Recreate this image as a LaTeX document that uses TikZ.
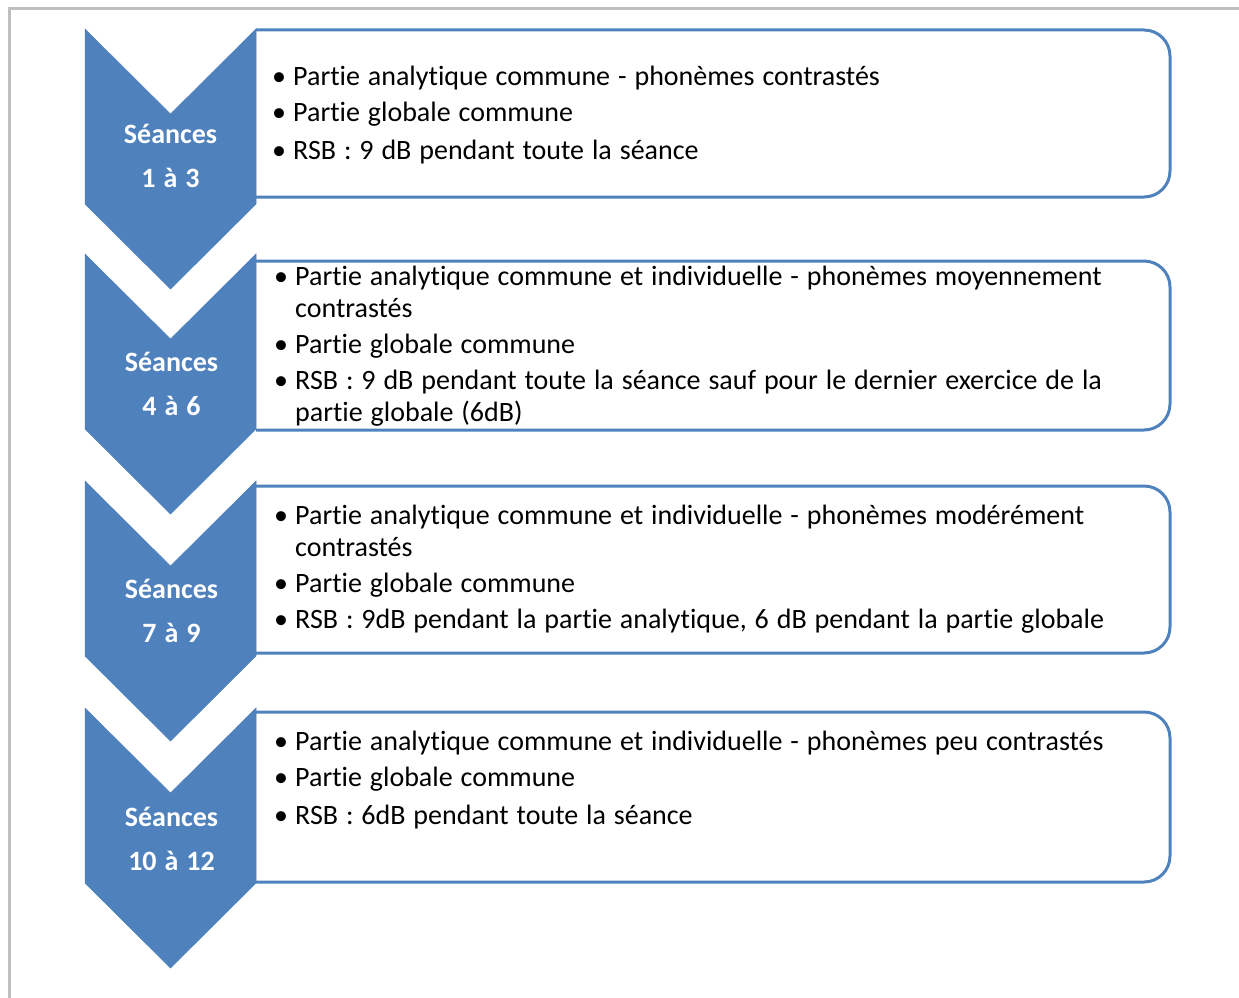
\documentclass[tikz,border=0pt]{standalone}
\usepackage{fontspec}
\setmainfont{Carlito}[Ligatures=NoCommon, WordSpace=1.25]
\usepackage{tikz}

\definecolor{bleu}{HTML}{4F81BD}
\newcommand{\puce}{\makebox[21pt][l]{\textbullet}}
\newcommand{\suite}{\hspace*{21pt}}

\begin{document}
\begin{tikzpicture}[x=1pt, y=-1pt,
  chevron/.style={fill=bleu, draw=bleu, line width=0.5pt},
  cadre/.style={draw=bleu, line width=3pt, rounded corners=26pt},
  etiq/.style={text=white, font=\bfseries\fontsize{28}{44}\selectfont, align=center, inner sep=0pt},
  puces/.style={font=\fontsize{28}{32}\selectfont, align=left, inner sep=0pt, anchor=base west}]

\useasboundingbox (0,0) rectangle (1239,998);
\draw[gray!50, line width=3pt] (9,998) -- (9,9) -- (1239,9);

\draw[cadre] (256,30) -- (1170,30) -- (1170,197) -- (256,197);
\draw[cadre] (256,261) -- (1170,261) -- (1170,430) -- (256,430);
\draw[cadre] (256,486) -- (1170,486) -- (1170,653) -- (256,653);
\draw[cadre] (256,712) -- (1170,712) -- (1170,882) -- (256,882);

\draw[chevron] (85,29) -- (170.5,114) -- (256,29) -- (256,204) -- (170.5,289) -- (85,204) -- cycle;
\draw[chevron] (85,254) -- (170.5,339) -- (256,254) -- (256,429) -- (170.5,514) -- (85,429) -- cycle;
\draw[chevron] (85,481) -- (170.5,566) -- (256,481) -- (256,656) -- (170.5,741) -- (85,656) -- cycle;
\draw[chevron] (85,708) -- (170.5,793) -- (256,708) -- (256,883) -- (170.5,968) -- (85,883) -- cycle;

\node[etiq] (s1) at (170.5,156) {Séances\\1 à 3};
\node[etiq] (s2) at (171.5,384) {Séances\\4 à 6};
\node[etiq] (s3) at (171.5,611) {Séances\\7 à 9};
\node[etiq] (s4) at (171.5,839) {Séances\\10 à 12};

\node[puces] (t1) at (272,159) {\puce Partie analytique commune - phonèmes contrastés\\[4pt]
  \puce Partie globale commune\\[6pt]
  \puce RSB : 9 dB pendant toute la séance};
\node[puces] (t2) at (274,421) {\puce Partie analytique commune et individuelle - phonèmes moyennement\\
  \suite contrastés\\[4pt]
  \puce Partie globale commune\\[4pt]
  \puce RSB : 9 dB pendant toute la séance sauf pour le dernier exercice de la\\
  \suite partie globale (6dB)};
\node[puces] (t3) at (274,628) {\puce Partie analytique commune et individuelle - phonèmes modérément\\
  \suite contrastés\\[4pt]
  \puce Partie globale commune\\[4pt]
  \puce RSB : 9dB pendant la partie analytique, 6 dB pendant la partie globale};
\node[puces] (t4) at (274,824) {\puce Partie analytique commune et individuelle - phonèmes peu contrastés\\[4pt]
  \puce Partie globale commune\\[6pt]
  \puce RSB : 6dB pendant toute la séance};
\end{tikzpicture}
\end{document}
